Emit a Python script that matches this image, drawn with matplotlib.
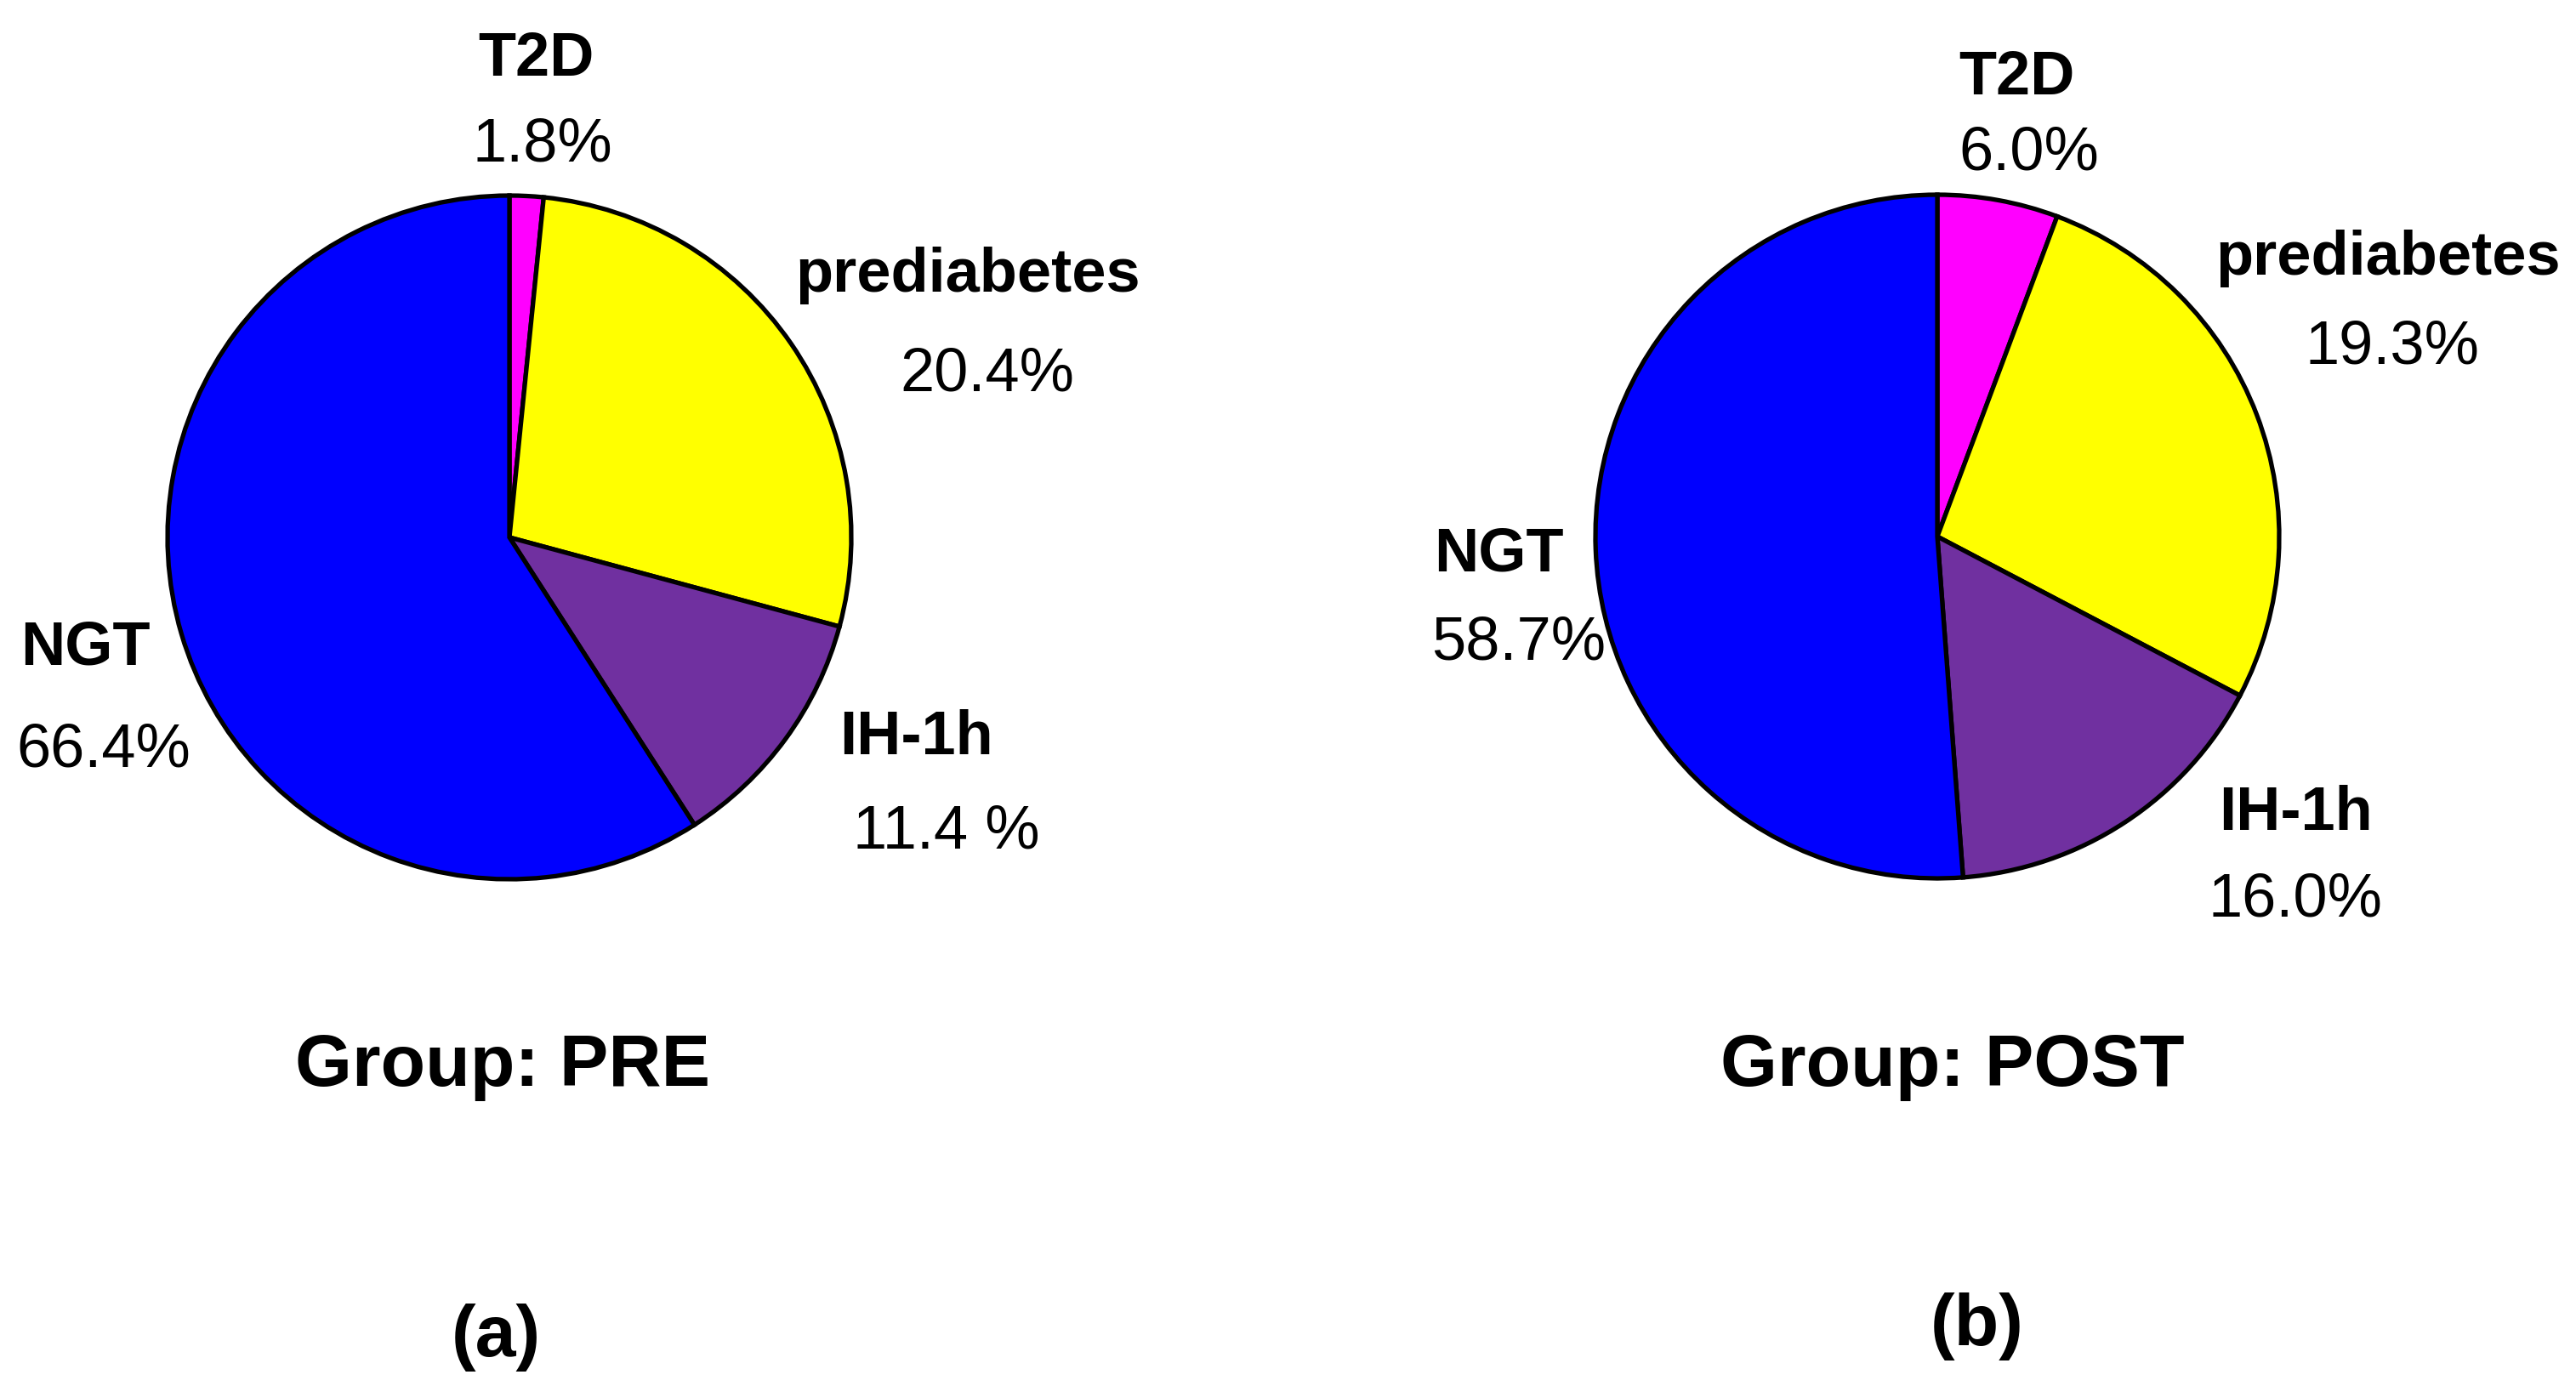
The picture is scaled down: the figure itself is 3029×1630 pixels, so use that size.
import matplotlib
matplotlib.use("Agg")
import matplotlib.pyplot as plt

# Data (slice sizes as drawn, labels as printed)
categories = ["T2D", "prediabetes", "IH-1h", "NGT"]
pre_slices = [1.6, 27.6, 11.7, 59.1]
post_slices = [5.7, 27.0, 16.1, 51.2]
pre_labels = ["1.8%", "20.4%", "11.4 %", "66.4%"]
post_labels = ["6.0%", "19.3%", "16.0%", "58.7%"]
colors = ["#FF00FF", "#FFFF00", "#7030A0", "#0000FF"]

W, H = 3029, 1630
plt.rcParams["font.family"] = ["Liberation Sans", "DejaVu Sans"]

fig = plt.figure(figsize=(W / 100, H / 100), dpi=100)
ax = fig.add_axes([0, 0, 1, 1])


def py(y):
    # image pixel row -> data y
    return H - y


def draw_pie(values, pcts, center, name_pos, pct_pos, title, title_pos, tag, tag_pos):
    ax.pie(values, colors=colors, startangle=90, counterclock=False,
           center=(center[0], py(center[1])), radius=402,
           wedgeprops=dict(edgecolor="black", linewidth=3.8))
    for cat, pct, (nx, ny), (qx, qy) in zip(categories, pcts, name_pos, pct_pos):
        ax.text(nx, py(ny), cat, ha="center", va="baseline",
                fontsize=52, fontweight="bold")
        ax.text(qx, py(qy), pct, ha="center", va="baseline", fontsize=52)
    ax.text(title_pos[0], py(title_pos[1]), title, ha="center", va="baseline",
            fontsize=62, fontweight="bold")
    ax.text(tag_pos[0], py(tag_pos[1]), tag, ha="center", va="baseline",
            fontsize=62, fontweight="bold")


draw_pie(pre_slices, pre_labels, (599, 632),
         [(630, 89), (1138, 343), (1078, 887), (100, 782)],
         [(638, 189), (1161, 459), (1113, 998), (122, 902)],
         "Group: PRE", (591, 1277), "(a)", (583, 1595))

draw_pie(post_slices, post_labels, (2278, 631),
         [(2371, 111), (2808, 323), (2699, 976), (1762, 671)],
         [(2386, 200), (2813, 427), (2699, 1077), (1786, 776)],
         "Group: POST", (2296, 1277), "(b)", (2325, 1582))

ax.set_xlim(0, W)
ax.set_ylim(0, H)
ax.set_aspect("equal")
ax.axis("off")

fig.savefig("out.png", dpi=100, facecolor="white")
plt.close(fig)
